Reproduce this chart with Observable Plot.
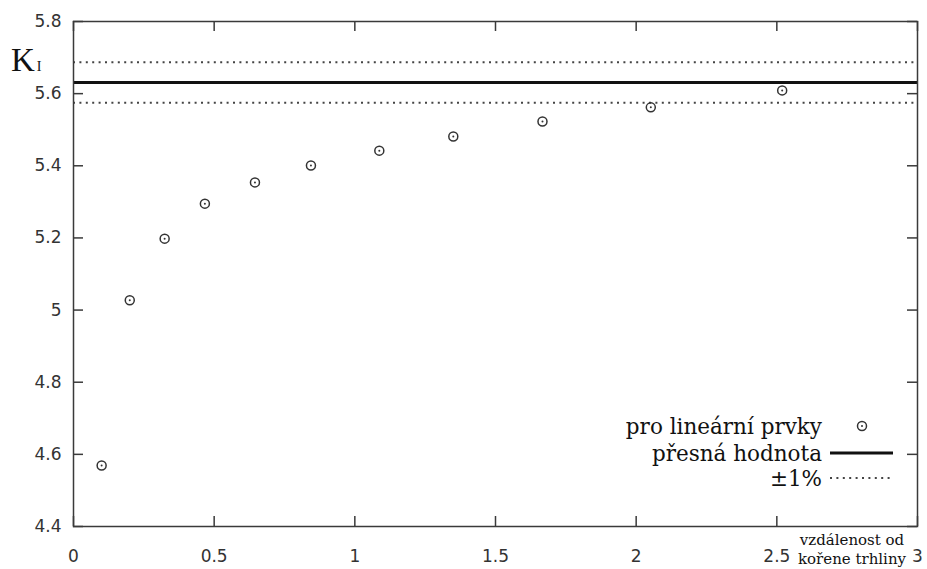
<!DOCTYPE html>
<html>
<head>
<meta charset="utf-8">
<script src="https://cdn.jsdelivr.net/npm/d3@7"></script>
<script src="https://cdn.jsdelivr.net/npm/@observablehq/plot@0.6"></script>
<style>
  html, body { margin: 0; padding: 0; background: #fff; }
  #chart { width: 927px; height: 569px; }
</style>
</head>
<body>
<div id="chart"></div>
<script>
// Data
const distances = [0.10, 0.20, 0.324, 0.467, 0.645, 0.844, 1.087, 1.35, 1.667, 2.052, 2.519];
const kValues   = [4.569, 5.027, 5.198, 5.295, 5.354, 5.401, 5.442, 5.481, 5.523, 5.562, 5.609];
const exactValue = 5.631;
const tolerance = 0.01;
const xTicks = [0, 0.5, 1, 1.5, 2, 2.5, 3];
const yTicks = [4.4, 4.6, 4.8, 5, 5.2, 5.4, 5.6, 5.8];
const legendLabels = ["pro lineární prvky", "přesná hodnota", "±1%"];
const xLabelLines = ["vzdálenost od", "kořene trhliny"];
const yLabel = "K";
const yLabelSub = "I";

const points = distances.map((d, i) => ({x: d, k: kValues[i]}));
const bounds = [exactValue * (1 + tolerance), exactValue * (1 - tolerance)];

const W = 927, H = 569;
const mL = 73, mR = 10, mT = 21, mB = 43;
const innerW = W - mL - mR, innerH = H - mT - mB;
const tickLen = 10;
const axisColor = "#3a3a3a";
const dotDash = "2,4.4";

const plot = Plot.plot({
  width: W, height: H,
  marginLeft: mL, marginRight: mR, marginTop: mT, marginBottom: mB,
  style: {fontFamily: "DejaVu Sans", fontSize: "17px", color: "#333", background: "#fff"},
  x: {domain: [0, 3], ticks: xTicks},
  y: {domain: [4.4, 5.8], ticks: yTicks},
  marks: [
    Plot.axisX(xTicks, {tickSize: 0, tickPadding: 23, tickFormat: d => String(d), fontSize: 17, fill: "#333", label: null}),
    Plot.axisY(yTicks, {tickSize: 0, tickPadding: 12, tickFormat: d => String(d), fontSize: 17, fill: "#333", label: null}),
    // inward ticks, gnuplot style (bottom/top/left/right)
    Plot.tickX(xTicks, {x: d => d, insetTop: innerH - tickLen, stroke: axisColor, strokeWidth: 1.5}),
    Plot.tickX(xTicks, {x: d => d, insetBottom: innerH - tickLen, stroke: axisColor, strokeWidth: 1.5}),
    Plot.tickY(yTicks, {y: d => d, insetRight: innerW - tickLen, stroke: axisColor, strokeWidth: 1.5}),
    Plot.tickY(yTicks, {y: d => d, insetLeft: innerW - tickLen, stroke: axisColor, strokeWidth: 1.5}),
    // reference lines
    Plot.ruleY(bounds, {y: d => d, stroke: "#444", strokeWidth: 2, strokeDasharray: dotDash}),
    Plot.ruleY([exactValue], {y: d => d, stroke: "#111", strokeWidth: 3}),
    // data points
    Plot.dot(points, {x: "x", y: "k", r: 4.5, stroke: "#333", strokeWidth: 1.5, fill: "none"}),
    Plot.dot(points, {x: "x", y: "k", r: 1, fill: "#333", stroke: "none"}),
    Plot.frame({stroke: axisColor, strokeWidth: 1.5})
  ]
});

document.getElementById("chart").appendChild(plot);

const svg = d3.select(plot);
const serif = "'DejaVu Serif', 'Liberation Serif', serif";

// Y label K_I
const yl = svg.append("text")
  .attr("x", 11).attr("y", 71)
  .attr("text-anchor", "start")
  .attr("font-family", "'Liberation Serif', serif")
  .attr("font-size", 33)
  .attr("fill", "#111");
yl.append("tspan").text(yLabel);
yl.append("tspan").attr("font-size", 14).attr("dx", 2).text(yLabelSub);

// X label (two lines)
const xl = svg.append("text")
  .attr("font-family", serif)
  .attr("font-size", 15)
  .attr("fill", "#111")
  .attr("text-anchor", "middle");
xl.append("tspan").attr("x", 852).attr("y", 545).text(xLabelLines[0]);
xl.append("tspan").attr("x", 852).attr("y", 564).text(xLabelLines[1]);

// Legend
const legendX = 822, rowY = [426, 453, 478];
const lg = svg.append("g").attr("font-family", serif).attr("font-size", 21.5).attr("fill", "#111");
legendLabels.forEach((t, i) => {
  lg.append("text").attr("x", legendX).attr("y", rowY[i]).attr("dy", "0.35em")
    .attr("text-anchor", "end").text(t);
});
lg.append("circle").attr("cx", 862).attr("cy", rowY[0]).attr("r", 4.5)
  .attr("fill", "none").attr("stroke", "#333").attr("stroke-width", 1.5);
lg.append("circle").attr("cx", 862).attr("cy", rowY[0]).attr("r", 1).attr("fill", "#333");
lg.append("line").attr("x1", 830).attr("x2", 893).attr("y1", rowY[1]).attr("y2", rowY[1])
  .attr("stroke", "#111").attr("stroke-width", 3);
lg.append("line").attr("x1", 830).attr("x2", 893).attr("y1", rowY[2]).attr("y2", rowY[2])
  .attr("stroke", "#444").attr("stroke-width", 2).attr("stroke-dasharray", dotDash);
</script>
</body>
</html>
